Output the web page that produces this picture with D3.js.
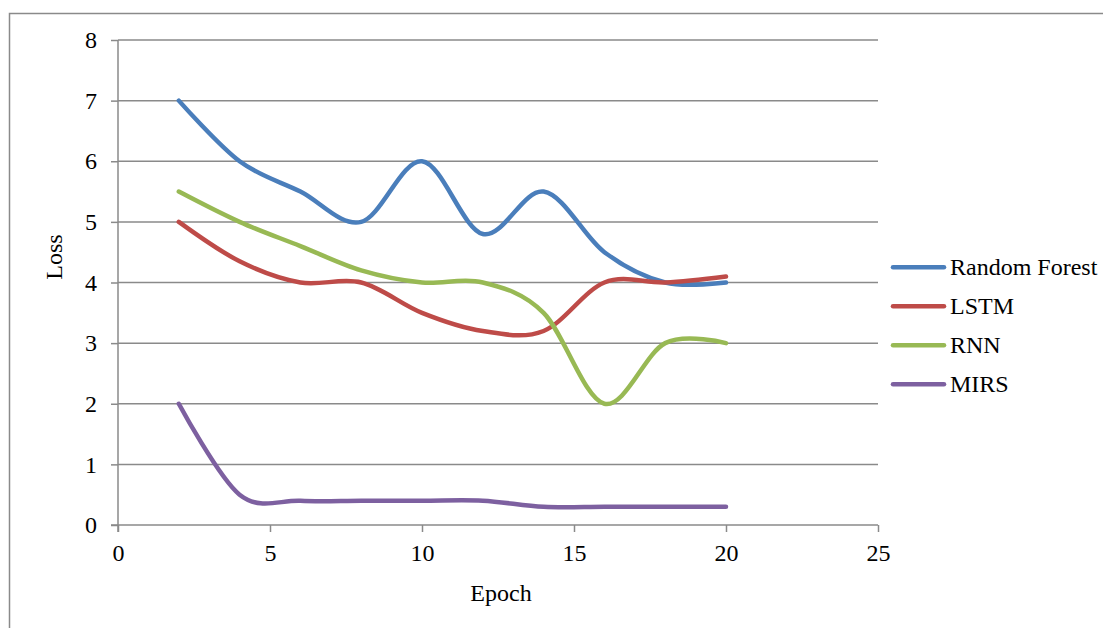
<!DOCTYPE html>
<html>
<head>
<meta charset="utf-8">
<script src="https://cdn.jsdelivr.net/npm/d3@7"></script>
<style>
  html, body { margin: 0; padding: 0; background: #fff; }
  svg { display: block; }
  text { font-family: "Liberation Serif", "Times New Roman", serif; fill: #000; }
</style>
</head>
<body>
<svg id="chart" width="1103" height="628"></svg>
<script>
const epochs = [2, 4, 6, 8, 10, 12, 14, 16, 18, 20];
const seriesNames = ["Random Forest", "LSTM", "RNN", "MIRS"];
const randomForest = [7.0, 6.0, 5.5, 5.0, 6.0, 4.8, 5.5, 4.5, 4.0, 4.0];
const lstm = [5.0, 4.35, 4.0, 4.0, 3.5, 3.2, 3.2, 4.0, 4.0, 4.1];
const rnn = [5.5, 5.0, 4.6, 4.2, 4.0, 4.0, 3.5, 2.0, 3.0, 3.0];
const mirs = [2.0, 0.5, 0.4, 0.4, 0.4, 0.4, 0.3, 0.3, 0.3, 0.3];
const colors = ["#4A7EBB", "#BE4B48", "#98B954", "#7D60A0"];
const xTicks = [0, 5, 10, 15, 20, 25];
const yTicks = [0, 1, 2, 3, 4, 5, 6, 7, 8];
const xTitle = "Epoch";
const yTitle = "Loss";

const allSeries = [randomForest, lstm, rnn, mirs];
const fontFamily = '"Liberation Serif", "Times New Roman", serif';
const fontSize = "24px";

const svg = d3.select("#chart");
const gridColor = "#8a8a8a";

// outer border
svg.append("rect")
  .attr("x", 9.5).attr("y", 13.5)
  .attr("width", 1200).attr("height", 700)
  .attr("fill", "none").attr("stroke", gridColor).attr("stroke-width", 1.5);

const x = d3.scaleLinear().domain([0, 25]).range([118, 878]);
const y = d3.scaleLinear().domain([0, 8]).range([525, 40]);

// horizontal gridlines
svg.append("g").selectAll("line")
  .data(yTicks.filter(d => d > 0))
  .join("line")
  .attr("x1", x(0)).attr("x2", x(25))
  .attr("y1", d => y(d)).attr("y2", d => y(d))
  .attr("stroke", gridColor).attr("stroke-width", 1.5);

// y axis
const yAxis = svg.append("g")
  .attr("transform", `translate(${x(0)},0)`)
  .call(d3.axisLeft(y).tickValues(yTicks).tickSize(7).tickPadding(14).tickFormat(d3.format("d")));
// x axis
const xAxis = svg.append("g")
  .attr("transform", `translate(0,${y(0)})`)
  .call(d3.axisBottom(x).tickValues(xTicks).tickSize(7).tickPadding(12).tickFormat(d3.format("d")));

[yAxis, xAxis].forEach(g => {
  g.selectAll(".tick line").attr("stroke", gridColor).attr("stroke-width", 1.5);
  g.selectAll(".tick text")
    .attr("fill", "#000")
    .attr("font-family", fontFamily)
    .style("font-family", fontFamily)
    .style("font-size", fontSize);
  g.select(".domain").remove();
});
svg.append("line").attr("x1", x(0)).attr("x2", x(0)).attr("y1", y(8)).attr("y2", y(0) + 7)
  .attr("stroke", gridColor).attr("stroke-width", 1.5);
svg.append("line").attr("x1", x(0) - 7).attr("x2", x(25)).attr("y1", y(0)).attr("y2", y(0))
  .attr("stroke", gridColor).attr("stroke-width", 1.5);

// series lines
const line = d3.line()
  .x((d, i) => x(epochs[i]))
  .y(d => y(d))
  .curve(d3.curveCatmullRom.alpha(0));

svg.append("g").selectAll("path")
  .data(allSeries)
  .join("path")
  .attr("d", d => line(d))
  .attr("fill", "none")
  .attr("stroke", (d, i) => colors[i])
  .attr("stroke-width", 4.5)
  .attr("stroke-linecap", "round")
  .attr("stroke-linejoin", "round");

// axis titles
svg.append("text")
  .attr("x", (x(0) + x(25)) / 2 + 3).attr("y", 601)
  .attr("text-anchor", "middle")
  .style("font-family", fontFamily)
  .style("font-size", fontSize)
  .text(xTitle);
svg.append("text")
  .attr("transform", "translate(62,257) rotate(-90)")
  .attr("text-anchor", "middle")
  .style("font-family", fontFamily)
  .style("font-size", fontSize)
  .text(yTitle);

// legend
const legend = svg.append("g");
const legY = d3.scalePoint().domain(seriesNames).range([267.3, 384.3]);
seriesNames.forEach((name, i) => {
  const ly = legY(name);
  legend.append("line")
    .attr("x1", 893).attr("x2", 944)
    .attr("y1", ly).attr("y2", ly)
    .attr("stroke", colors[i]).attr("stroke-width", 4.5)
    .attr("stroke-linecap", "round");
  legend.append("text")
    .attr("x", 950).attr("y", ly + 8)
    .style("font-family", fontFamily)
    .style("font-size", fontSize)
    .text(name);
});
</script>
</body>
</html>
